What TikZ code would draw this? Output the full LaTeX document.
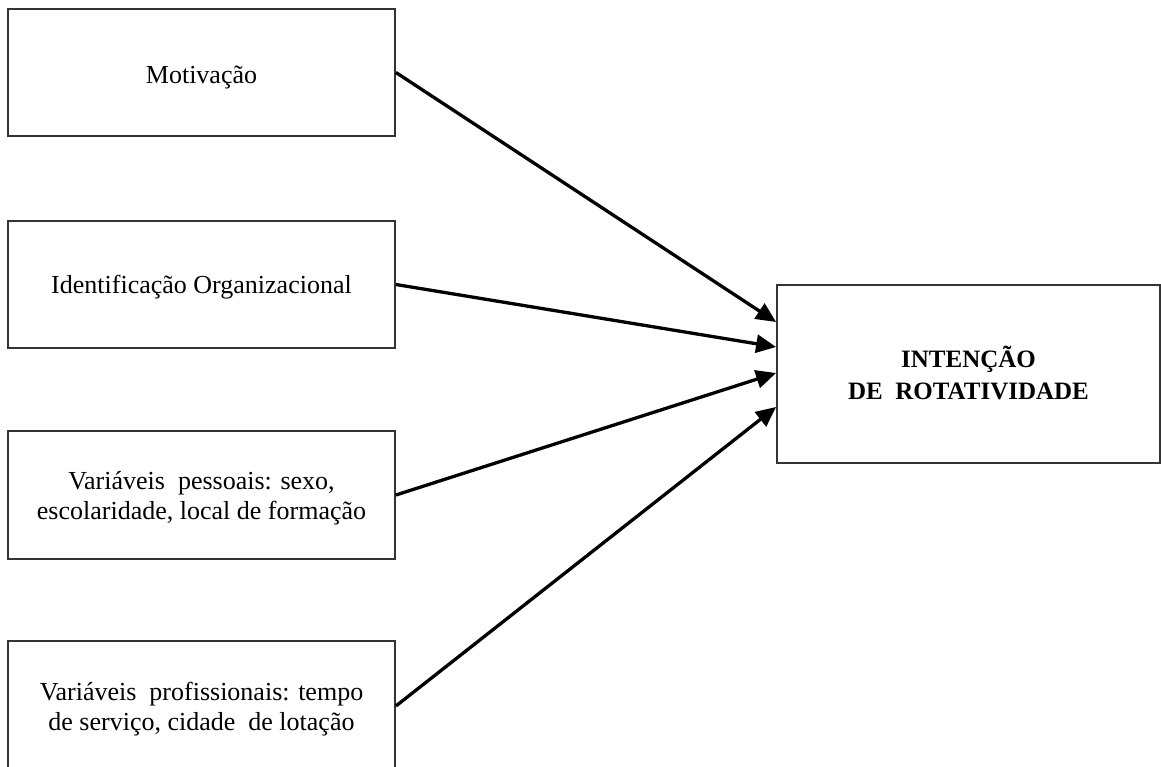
\documentclass[tikz,border=0pt]{standalone}
\usepackage{fontspec}
\setmainfont{Liberation Serif}
\usetikzlibrary{arrows.meta,calc}
\begin{document}
\begin{tikzpicture}[x=1pt,y=-1pt,
  box/.style={draw=black!80, line width=1.8pt, rectangle, inner sep=0pt},
  txt/.style={align=center, inner sep=0pt, font=\fontsize{26}{30}\selectfont},
  arr/.style={line width=3.3pt, -{Triangle[length=20pt,width=18pt]}}]
\useasboundingbox (0,0) rectangle (1161,767);
\clip (0,0) rectangle (1161,767);
\fill[white] (0,0) rectangle (1161,767);
\node[box, minimum width=387pt, minimum height=127pt] (b1) at (201.5,72.5) {};
\node[box, minimum width=387pt, minimum height=127pt] (b2) at (201.5,284.5) {};
\node[box, minimum width=387pt, minimum height=128pt] (b3) at (201.5,495) {};
\node[box, minimum width=387pt, minimum height=130pt] (b4) at (201.5,706) {};
\node[box, minimum width=383pt, minimum height=178pt] (t) at (968.5,374) {};
\node[txt] (b1t) at ($(b1.center)+(0,5)$) {Motivação};
\node[txt] (b2t) at ($(b2.center)+(0,3)$) {Identificação Organizacional};
\node[txt] (b3t) at ($(b3.center)+(0,3)$) {Variáveis\ \ pessoais: sexo,\\escolaridade, local de formação};
\node[txt] (b4t) at ($(b4.center)+(0,3)$) {Variáveis\ \ profissionais: tempo\\de serviço, cidade\ \ de lotação};
\node[txt, font=\fontsize{25}{32}\selectfont\bfseries] (tt) at ($(t.center)+(0,-1)$) {INTENÇÃO\\DE\ \ ROTATIVIDADE};
\draw[arr] (b1.east) -- ($(t.west)+(0,-52)$);
\draw[arr] (b2.east) -- ($(t.west)+(0,-27)$);
\draw[arr] (b3.east) -- ($(t.west)+(0,-1)$);
\draw[arr] (b4.east) -- ($(t.west)+(0,33)$);
\end{tikzpicture}
\end{document}
